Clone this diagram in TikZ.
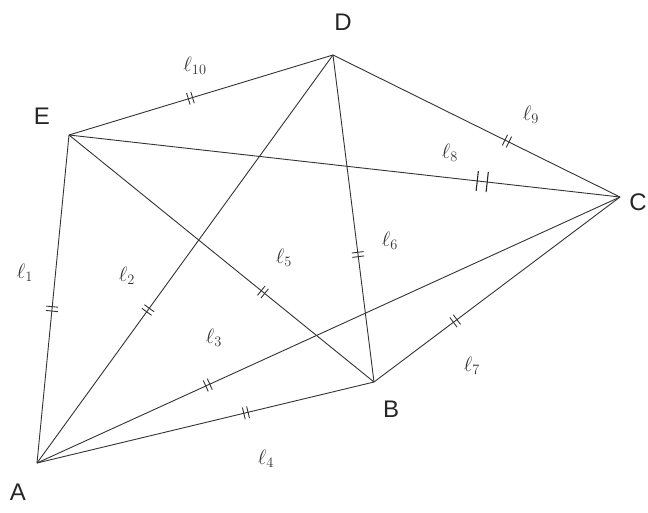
\documentclass[tikz,border=0pt]{standalone}
\usepackage{fontspec}
\newfontfamily\vfont{Liberation Sans}
\usetikzlibrary{decorations.markings}
\begin{document}
\begin{tikzpicture}[x=1pt,y=-1pt,
  edge/.style={draw=black!80, line width=0.9pt},
  tk/.style={postaction={decorate, decoration={markings,
     mark=at position #1 with {\draw[black!80, line width=0.9pt] (-2.2,-6)--(-2.2,6) (2.2,-6)--(2.2,6);}}}},
  bigtk/.style={postaction={decorate, decoration={markings,
     mark=at position #1 with {\draw[black!85, line width=1.1pt] (-5,-10)--(-5,10) (5,-10)--(5,10);}}}},
  vlab/.style={font=\vfont\fontsize{24}{24}\selectfont, text=black!85},
  llab/.style={font=\fontsize{21}{21}\selectfont, text=black!80}]
\useasboundingbox (0,0) rectangle (648,512);
\coordinate (A) at (37,463);
\coordinate (B) at (374,382);
\coordinate (C) at (620,197);
\coordinate (D) at (333,55);
\coordinate (E) at (69,135);
\path[edge, tk=0.47] (A) -- (E);
\path[edge, tk=0.375] (A) -- (D);
\path[edge, tk=0.293] (A) -- (C);
\path[edge, tk=0.62] (A) -- (B);
\path[edge, tk=0.636] (E) -- (B);
\path[edge, tk=0.61] (D) -- (B);
\path[edge, tk=0.33] (B) -- (C);
\path[edge, bigtk=0.75] (E) -- (C);
\path[edge, tk=0.606] (D) -- (C);
\path[edge, tk=0.46] (E) -- (D);
\node[vlab] (lA) at (18,492) {A};
\node[vlab] (lB) at (391,409) {B};
\node[vlab] (lC) at (638,202) {C};
\node[vlab] (lD) at (343,22) {D};
\node[vlab] (lE) at (42,116) {E};
\node[llab] (l1) at (25,273) {$\ell_{1}$};
\node[llab] (l2) at (127,276) {$\ell_{2}$};
\node[llab] (l3) at (214,338) {$\ell_{3}$};
\node[llab] (l4) at (266,459) {$\ell_{4}$};
\node[llab] (l5) at (284,258) {$\ell_{5}$};
\node[llab] (l6) at (390,241) {$\ell_{6}$};
\node[llab] (l7) at (472,366) {$\ell_{7}$};
\node[llab] (l8) at (450,153) {$\ell_{8}$};
\node[llab] (l9) at (531,115) {$\ell_{9}$};
\node[llab] (l10) at (195,66) {$\ell_{10}$};
\end{tikzpicture}
\end{document}
